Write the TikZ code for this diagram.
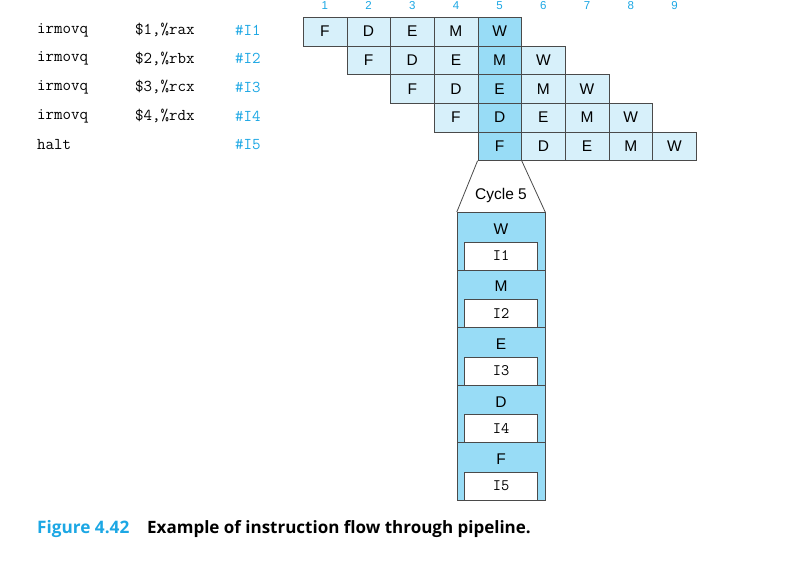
\documentclass[tikz,border=0pt]{standalone}
\usepackage{fontspec}
\setsansfont{Liberation Sans}
\newfontfamily\capfont{Open Sans}
\usetikzlibrary{positioning}
\definecolor{pipeblue}{HTML}{1CA7E4}
\definecolor{celllight}{HTML}{D7F0FA}
\definecolor{celldark}{HTML}{98DCF6}
\definecolor{edgegray}{HTML}{4A4A4A}
\tikzset{
  stagecell/.style={draw=edgegray,fill=celllight,minimum width=43.7,minimum height=28.7,
    inner sep=0,font=\sffamily\fontsize{15.5}{16}\selectfont},
  nowcell/.style={stagecell,fill=celldark},
  cyclebox/.style={draw=edgegray,fill=celldark,minimum width=88,minimum height=57.6,inner sep=0},
  slotbox/.style={draw=edgegray,fill=white,minimum width=73,minimum height=28,inner sep=0,
    font=\ttfamily\fontsize{16}{16}\selectfont},
  code/.style={anchor=west,inner sep=0,font=\ttfamily\fontsize{16.5}{16}\selectfont},
}
\begin{document}
\begin{tikzpicture}[x=1pt,y=-1pt]
        \useasboundingbox (0,0) rectangle (809,565);
        %% Program
        \foreach \i/\op/\arg in {1/irmovq/\$1\char44\%rax,2/irmovq/\$2\char44\%rbx,
            3/irmovq/\$3\char44\%rcx,4/irmovq/\$4\char44\%rdx,5/halt/} {
            \node[code] (op\i) at (37,{30+(\i-1)*28.7}) {\op};
            \node[code] (arg\i) at (135,{30+(\i-1)*28.7}) {\arg};
            \node[code,text=pipeblue] (tag\i) at (235,{30+(\i-1)*28.7}) {\#I\i};
        }
        %% Clock cycles
        \foreach \c in {1,...,9}
            \node[text=pipeblue,inner sep=0,font=\sffamily\fontsize{11.5}{12}\selectfont] (cyc\c)
                at ({303+(\c-0.5)*43.7},5.5) {\c};
        %% Pipeline cells
        \foreach \i in {1,...,5} {
            \foreach \s [count=\k] in {F,D,E,M,W} {
                \pgfmathtruncatemacro{\c}{\i+\k-1}
                \ifnum\c=5
                    \node[nowcell] (c\i\k) at ({303+(\c-0.5)*43.7},{17+(\i-0.5)*28.7}) {\s};
                \else
                    \node[stagecell] (c\i\k) at ({303+(\c-0.5)*43.7},{17+(\i-0.5)*28.7}) {\s};
                \fi
            }
        }
        %% Cycle 5 snapshot
        \foreach \s [count=\k] in {W,M,E,D,F} {
            \node[cyclebox,anchor=north] (sec\k) at (501,{212+(\k-1)*57.6}) {};
            \node[slotbox,anchor=south] (slot\k) at (sec\k.south) {I\k};
            \node[inner sep=0,font=\sffamily\fontsize{15.5}{16}\selectfont] (lab\k)
                at ([yshift=-17]sec\k.north) {\s};
        }
        \draw[edgegray,line width=0.8pt] (c51.south west) -- (sec1.north west);
        \draw[edgegray,line width=0.8pt] (c51.south east) -- (sec1.north east);
        \node[inner sep=0,font=\sffamily\fontsize{15.5}{16}\selectfont] (cyclab) at (501,195) {Cycle 5};
        %% Caption
        \node[anchor=base west,inner sep=0,text=pipeblue,font=\capfont\bfseries\fontsize{17.2}{18}\selectfont]
            (fignum) at (37,533) {Figure 4.42};
        \node[anchor=base west,inner sep=0,font=\capfont\bfseries\fontsize{17}{18}\selectfont]
            (figtext) at (147,533) {Example of instruction flow through pipeline.};
    \end{tikzpicture}
\end{document}
